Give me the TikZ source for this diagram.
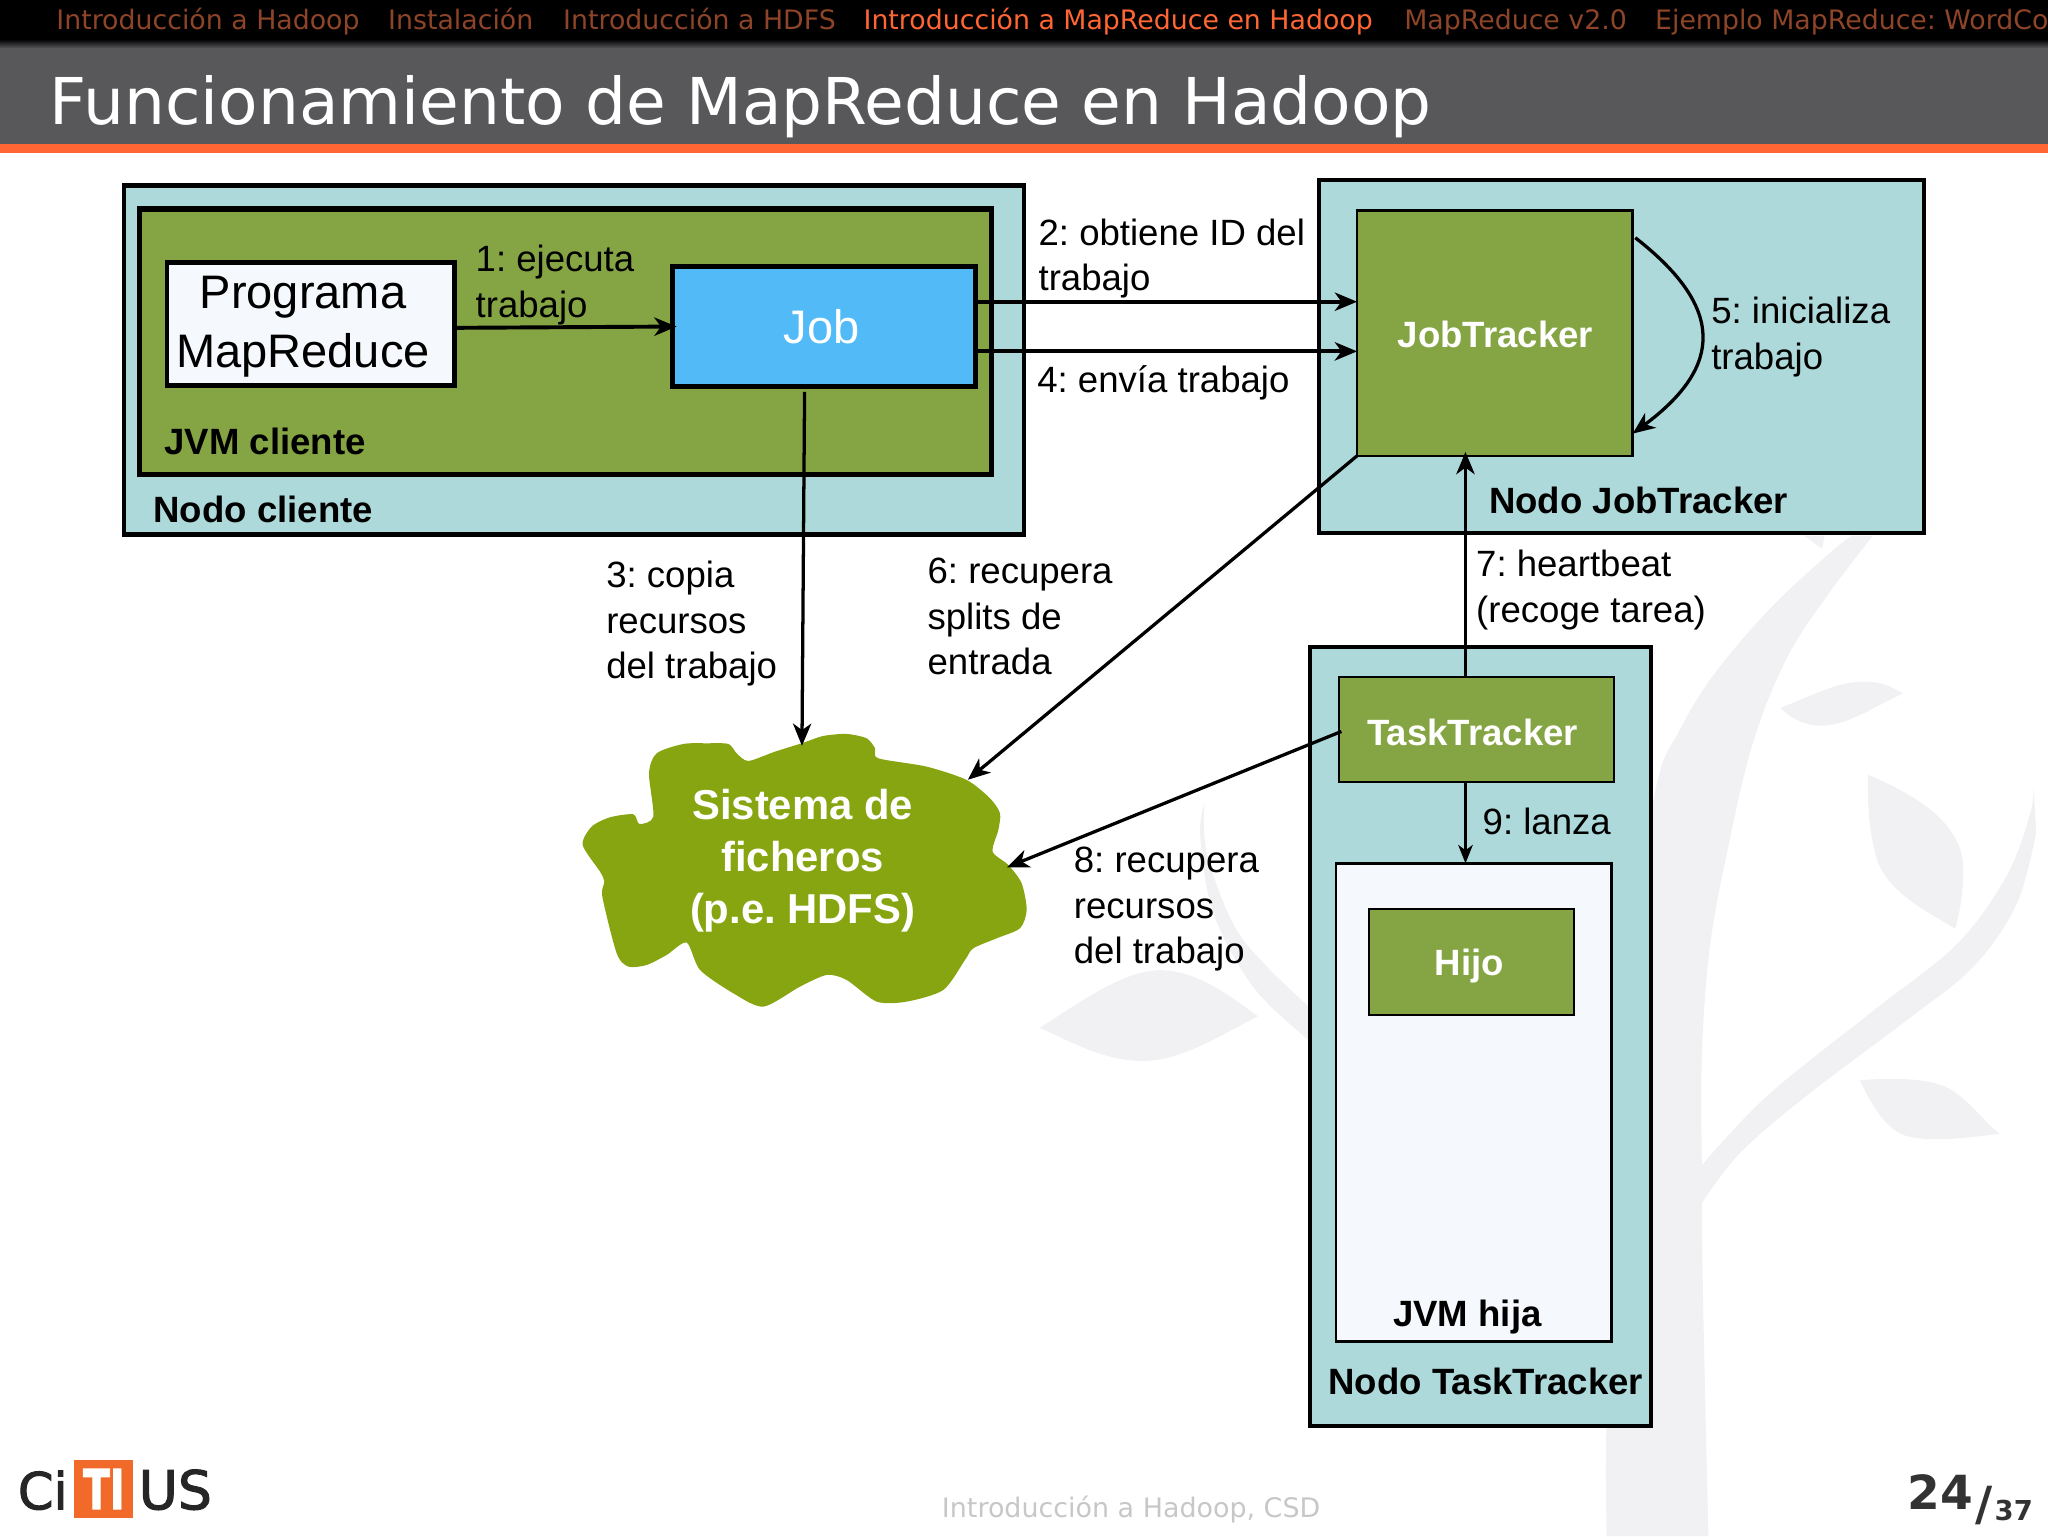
\documentclass[tikz,border=0pt]{standalone}
\usepackage{fontspec}
\setmainfont{Liberation Sans}
\newfontfamily\djv{DejaVu Sans}
\newfontfamily\logofont[FakeBold=2]{DejaVu Sans}
\usetikzlibrary{arrows.meta,calc}
\definecolor{teal1}{HTML}{ADD9DA}
\definecolor{olive1}{HTML}{85A443}
\definecolor{paleb}{HTML}{F5F8FC}
\definecolor{sky1}{HTML}{52BBF7}
\definecolor{cloudg}{HTML}{86A510}
\definecolor{treeg}{HTML}{F1F0F3}
\definecolor{orange1}{HTML}{FF6633}
\definecolor{dimo}{HTML}{8E4428}
\definecolor{bargray}{HTML}{58575A}
\definecolor{logoo}{HTML}{F26A2A}
\frenchspacing
\newcommand{\dn}[2]{\raisebox{-#1pt}[\height][\depth]{#2}}
\tikzset{
  bx/.style={draw=black,rectangle,inner sep=0pt,outer sep=0pt,align=center},
  blab/.style={inner sep=0pt,font=\bfseries\fontsize{28}{35}\selectfont},
  wlab/.style={blab,text=white},
  lab/.style={inner sep=0pt,anchor=west,align=left,font=\fontsize{28}{35}\selectfont},
  conn/.style={draw=black,line width=3pt,-{Stealth[length=17pt,width=14pt,inset=5pt]}},
  thinconn/.style={conn,line width=2.5pt},
  hdr/.style={inner sep=0pt,anchor=base west,font=\djv\fontsize{20.5}{21}\selectfont,text=dimo},
}
\begin{document}
\begin{tikzpicture}[x=1pt,y=-1pt]
\useasboundingbox (0,0) rectangle (1568,1176);
\clip (0,0) rectangle (1568,1176);
% watermark tree
\fill[treeg] plot[smooth,tension=.6] coordinates {(1230,1176)(1230,1090)(1236,1000)(1240,900)(1245,760)(1267,607)(1286,559)(1314,514)(1358,463)(1406,419)(1419,410)}
  -- plot[smooth,tension=.6] coordinates {(1434,410)(1399,456)(1368,504)(1342,569)(1322,654)(1309,726)(1303,808)(1303,892)}
  -- plot[smooth,tension=.6] coordinates {(1303,892)(1353,839)(1434,774)(1498,723)(1536,671)(1554,624)(1557,603)}
  -- plot[smooth,tension=.6] coordinates {(1559,637)(1544,692)(1511,740)(1460,781)(1383,839)(1332,883)(1303,921)}
  -- plot[smooth,tension=.6] coordinates {(1303,921)(1304,1000)(1308,1176)} -- cycle;
\fill[treeg] (1381,410) -- (1397,410) -- (1395,420) -- cycle;
\fill[treeg] (1363,542) .. controls (1395,530) and (1425,510) .. (1457,531) .. controls (1425,545) and (1395,572) .. cycle;
\fill[treeg] (1430,593) .. controls (1465,608) and (1505,630) .. (1503,668) .. controls (1503,685) and (1500,700) .. (1497,711) .. controls (1470,695) and (1440,680) .. (1435,650) .. controls (1430,630) and (1430,610) .. cycle;
\fill[treeg] (1424,827) .. controls (1450,825) and (1480,825) .. (1495,835) .. controls (1510,845) and (1520,860) .. (1531,868) .. controls (1500,872) and (1470,875) .. (1455,868) .. controls (1440,860) and (1430,840) .. cycle;
\fill[treeg] (796,787) .. controls (830,765) and (865,740) .. (893,743) .. controls (920,745) and (945,765) .. (963,778) .. controls (930,795) and (900,815) .. (868,812) .. controls (840,810) and (815,795) .. cycle;
\fill[treeg] plot[smooth,tension=.6] coordinates {(922,615)(919,641)(929,699)(959,755)(1000,795)(1010,803)} -- plot[smooth,tension=.6] coordinates {(1010,778)(970,740)(944,707)(924,653)(922,615)} -- cycle;
% header
\fill[black] (0,0) rectangle (1568,31);
\shade[top color=black,bottom color=bargray] (0,30) rectangle (1568,37);
\fill[bargray] (0,37) rectangle (1568,110);
\fill[orange1] (0,110) rectangle (1568,117);
\node[hdr] (h1) at (43,22.5) {Introducción a Hadoop};
\node[hdr] (h2) at (297,22.5) {Instalación};
\node[hdr] (h3) at (431,22.5) {Introducción a HDFS};
\node[hdr,text=orange1] (h4) at (661,22.5) {Introducción a MapReduce en Hadoop};
\node[hdr] (h5) at (1075,22.5) {MapReduce v2.0};
\node[hdr] (h6) at (1267,22.5) {Ejemplo MapReduce: WordCount};
\node[inner sep=0pt,anchor=base west,text=white,font=\djv\fontsize{49.4}{50}\selectfont] (title) at (38,95) {Funcionamiento de MapReduce en Hadoop};
% boxes
\node[bx,fill=teal1,line width=3.5pt,minimum width=689pt,minimum height=267pt] (nc) at (439.5,275.5) {};
\node[bx,fill=olive1,line width=4pt,minimum width=652pt,minimum height=203pt] (jvmc) at (433,261.5) {};
\node[bx,fill=paleb,line width=3.5pt,minimum width=220pt,minimum height=94pt,font=\fontsize{36}{45}\selectfont] (prog) at (238,248) {\dn{2}{Programa}\hspace*{12pt}\\\dn{2}{MapReduce}\hspace*{12pt}};
\node[bx,fill=sky1,line width=3.5pt,minimum width=232pt,minimum height=92pt,text=white,font=\fontsize{36}{45}\selectfont] (job) at (631,250) {Job\hspace*{4pt}};
\node[bx,fill=teal1,line width=3pt,minimum width=463pt,minimum height=270pt] (njt) at (1241.5,273) {};
\node[bx,fill=olive1,line width=2pt,minimum width=211pt,minimum height=188pt,wlab] (jt) at (1144.5,255) {\dn{1}{JobTracker}\hspace*{-1pt}};
\node[bx,fill=teal1,line width=3pt,minimum width=261pt,minimum height=597pt] (ntt) at (1133.5,793.5) {};
\node[bx,fill=olive1,line width=1.5pt,minimum width=211pt,minimum height=81pt,wlab] (tt) at (1130.5,558.5) {\dn{2}{TaskTracker}\hspace*{6pt}};
\node[bx,fill=paleb,line width=2pt,minimum width=211pt,minimum height=366pt] (jvmh) at (1128.5,844) {};
\node[bx,fill=olive1,line width=1.5pt,minimum width=157pt,minimum height=81pt,wlab] (hijo) at (1126.5,736.5) {\dn{3}{Hijo}\hspace*{3pt}};
% box captions
\node[blab] (ljvmc) at (203,338) {JVM cliente};
\node[blab] (lnc) at (201.5,390) {Nodo cliente};
\node[blab] (lnjt) at (1254.5,383) {Nodo JobTracker};
\node[blab] (ljvmh) at (1123.5,1008.5) {JVM hija};
\node[blab] (lntt) at (1137.5,1058) {Nodo TaskTracker};
% cloud
\begin{scope}[x=0.2552pt,y=-0.2552pt,shift={(428.75pt,-535.9pt)}]
\fill[cloudg] plot[smooth cycle,tension=.45] coordinates {
(505,132)(530,160)(565,183)(645,155)(725,130)(790,108)(860,102)(920,115)(945,145)(955,175)(1100,200)(1220,240)(1290,295)(1320,340)(1315,390)(1298,455)(1345,495)(1385,550)(1400,630)(1380,685)(1310,715)(1240,745)(1215,780)(1150,870)(1040,905)(950,905)(860,840)(800,825)(720,860)(610,920)(520,880)(420,810)(380,728)(320,765)(260,795)(205,800)(170,760)(127,590)(133,545)(120,515)(68,435)(95,380)(150,352)(220,343)(238,372)(280,350)(267,220)(290,160)(370,132)(440,130)};
\end{scope}
\node[inner sep=0pt,align=center,text=white,font=\bfseries\fontsize{32}{40}\selectfont] (hdfs) at (614.5,659) {Sistema de\\ficheros\\(p.e. HDFS)};
\coordinate (cloudN) at (614,571);
\coordinate (cloudNE) at (741,597);
\coordinate (cloudE) at (771,664);
% connectors
\draw[conn] ([yshift=-3pt]prog.east) -- ([xshift=3pt]job.west);
\draw[conn] ([yshift=19pt]job.east) -- ([yshift=24pt]jt.west);
\draw[conn] ([yshift=-19pt]job.east) -- ([yshift=-14pt]jt.west);
\draw[thinconn] ([xshift=-15pt,yshift=-4pt]job.south) -- (cloudN);
\draw[thinconn] ([xshift=2pt,yshift=-21pt]jt.north east) .. controls (1320,235) and (1320,280) .. ([yshift=17pt]jt.south east);
\draw[thinconn] (jt.south west) -- (cloudNE);
\draw[conn] ([xshift=-8.5pt]tt.north) -- ([xshift=-22.5pt,yshift=3pt]jt.south);
\draw[thinconn] ([xshift=2pt,yshift=-1.5pt]tt.west) -- (cloudE);
\draw[thinconn,-{Stealth[length=14pt,width=11pt,inset=4pt]}] ([xshift=-8.5pt]tt.south) -- ([xshift=-6.5pt]jvmh.north);
% connector labels
\node[lab] (l1) at (364,218) {1: ejecuta\\trabajo};
\node[lab] (l2) at (795,198) {2: obtiene ID del\\trabajo};
\node[lab] (l3) at (464,477.5) {3: copia\\recursos\\del trabajo};
\node[lab] (l4) at (794,293) {4: envía trabajo};
\node[lab] (l5) at (1310,258) {5: inicializa\\trabajo};
\node[lab] (l6) at (710,472) {6: recupera\\splits de\\entrada};
\node[lab] (l7) at (1130,452) {7: heartbeat\\(recoge tarea)};
\node[lab] (l8) at (822,696) {8: recupera\\recursos\\del trabajo};
\node[lab] (l9) at (1135,629) {9: lanza};
% footer
\node[inner sep=0pt,text=black!22,font=\djv\fontsize{20.6}{21}\selectfont] (foot) at (866,1156) {Introducción a Hadoop, CSD};
\node[inner sep=0pt,anchor=base east,text=black!80,font=\djv\bfseries\fontsize{36}{36}\selectfont] (pg) at (1511,1155.5) {24};
\node[inner sep=0pt,anchor=base west,text=black!80,font=\djv\bfseries\fontsize{36}{36}\selectfont] (sl) at (1512,1164) {/};
\node[inner sep=0pt,anchor=base west,text=black!80,font=\djv\bfseries\fontsize{21}{21}\selectfont] (tot) at (1527,1164) {37};
% logo
\node[fill=logoo,minimum width=45pt,minimum height=45pt,inner sep=0pt,outer sep=0pt,text=white] (tibox) at (79.5,1140) {\fontsize{42}{42}\selectfont\logofont\bfseries\scalebox{.72}[1]{TI}};
\node[inner sep=0pt,anchor=base east,text=black!85,font=\logofont\fontsize{39}{40}\selectfont] (ci) at (52,1155.5) {Ci};
\node[inner sep=0pt,anchor=base west,text=black!85,font=\logofont\fontsize{41}{40}\selectfont] (us) at (106,1155.5) {US};
\end{tikzpicture}
\end{document}
